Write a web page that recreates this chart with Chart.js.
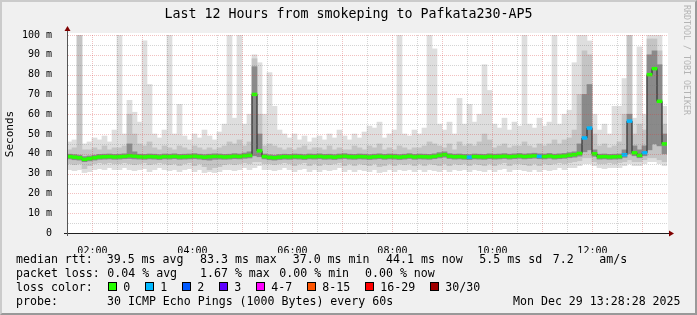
<!DOCTYPE html>
<html>
<head>
<meta charset="utf-8">
<script src="https://cdn.jsdelivr.net/npm/chart.js@4.4.1/dist/chart.umd.min.js"></script>
<style>
  html, body { margin: 0; padding: 0; background: #f0f0f0; }
  #wrap { position: relative; width: 697px; height: 315px; overflow: hidden; }
  #frame { position: absolute; left: 0; top: 0; width: 697px; height: 315px; box-sizing: border-box;
           background: #f0f0f0; border-style: solid; border-width: 2px; border-color: #cbcbcb #999 #999 #cbcbcb; }
  canvas { position: absolute; left: 0; top: 0; }
  #title { position: absolute; left: 0; top: 6px; width: 697px; text-align: center; font-family: "DejaVu Sans Mono", monospace;
           font-size: 13.3px; line-height: 16px; color: #000; white-space: pre; }
  .t { position: absolute; font-family: "DejaVu Sans Mono", monospace; font-size: 11.6px; line-height: 14px;
       white-space: pre; color: #000; }
  .box { position: absolute; width: 7px; height: 7px; border: 1px solid #000; }
  #brand { position: absolute; left: 682px; top: 5px; writing-mode: vertical-rl; font-family: "DejaVu Sans Mono", monospace;
           font-size: 8.3px; line-height: 10px; color: #b4b4b4; white-space: nowrap; }
</style>
</head>
<body>
<div id="wrap">
  <div id="frame"></div>
  <canvas id="smoke" width="697" height="315"></canvas>
  <div id="title">Last 12 Hours from smokeping to Pafkata230-AP5</div>
  <div id="brand">RRDTOOL / TOBI OETIKER</div>
  <div id="legend"></div>
</div>
<script>
// 120 bins of 6 minutes, 01:29:30 .. 13:29:30
var binStart = 89.5;
var binMinutes = 6;

// median rtt (ms)
var median = [
  38.6, 38.3, 38.0, 37.2, 37.6, 38.0, 38.4, 38.5, 38.6, 38.4,
  38.5, 38.7, 39.0, 38.8, 38.5, 38.4, 38.6, 38.5, 38.3, 38.6,
  38.5, 38.7, 38.4, 38.5, 38.6, 38.8, 38.5, 38.3, 38.5, 38.7,
  38.6, 38.4, 38.5, 38.8, 38.6, 39.0, 39.2, 70.0, 41.5, 38.6,
  38.2, 38.0, 38.3, 38.5, 38.4, 38.6, 38.5, 38.3, 38.6, 38.5,
  38.7, 38.4, 38.5, 38.3, 38.6, 38.8, 38.5, 38.4, 38.6, 38.5,
  38.3, 38.5, 38.7, 38.4, 38.6, 38.5, 38.3, 38.5, 38.8, 38.4,
  38.6, 38.5, 38.4, 38.7, 39.2, 39.6, 38.8, 38.5, 38.6, 38.4,
  38.3, 38.6, 38.5, 38.4, 38.7, 38.5, 38.6, 38.8, 38.5, 38.7,
  38.9, 38.6, 38.8, 39.0, 38.7, 38.6, 38.9, 38.5, 38.7, 38.9,
  39.3, 39.6, 40.2, 48.0, 53.0, 40.0, 38.5, 38.6, 38.4, 38.5,
  38.6, 39.5, 56.5, 40.5, 39.2, 40.5, 80.0, 83.0, 66.5, 45.0
];

// lost pings per bin (of 30)
var loss = [
  0,0,0,0,0,0,0,0,0,0, 0,0,0,0,0,0,0,0,0,0, 0,0,0,0,0,0,0,0,0,0,
  0,0,0,0,0,0,0,0,0,0, 0,0,0,0,0,0,0,0,0,0, 0,0,0,0,0,0,0,0,0,0,
  0,0,0,0,0,0,0,0,0,0, 0,0,0,0,0,0,0,0,0,0, 1,0,0,0,0,0,0,0,0,0,
  0,0,0,0,1,0,0,0,0,0, 0,0,0,1,1,0,0,0,0,0, 0,1,1,0,0,1,0,0,0,0
];

// smoke: min / max ping (ms)
var smokeMin = [
  32, 31.5, 32, 30.5, 31, 32, 32.5, 32, 33, 32,
  32, 33, 32, 31.5, 32, 32.5, 31, 32, 33, 32,
  31.5, 32, 31, 32, 32.5, 31, 32, 30.5, 31, 30.5,
  31, 32, 32, 31.5, 32, 33, 32, 33, 34, 32,
  32, 31.5, 32, 33, 32, 31, 32, 32.5, 31, 32,
  31, 32, 31.5, 32, 33, 31, 32, 31, 32, 31.5,
  31, 32, 30.5, 31, 32, 31, 32, 31.5, 32, 31,
  32, 31, 32, 31.5, 31, 32, 31, 32, 31.5, 32,
  31, 32, 31.5, 31, 32, 31, 32, 32.5, 31, 32,
  32, 31.5, 31, 32, 31, 32, 31.5, 32, 33, 32,
  33, 33, 34, 35, 35, 34, 33, 32.5, 33, 33,
  33, 34, 35, 34, 34, 35, 36, 36, 35, 34
];
var smokeMax = [
  46, 47, 100, 45, 46, 48, 47, 49, 46, 52,
  100, 50, 67, 61, 56, 97, 75, 50, 48, 52,
  100, 50, 65, 49, 47, 50, 48, 52, 49, 47,
  51, 55, 100, 58, 100, 55, 60, 90, 86, 60,
  81, 64, 52, 50, 48, 50, 47, 49, 46, 48,
  49, 47, 50, 48, 52, 49, 47, 50, 48, 51,
  54, 53, 56, 48, 50, 52, 100, 50, 49, 52,
  50, 53, 100, 93, 55, 52, 56, 50, 68, 55,
  65, 56, 60, 85, 72, 55, 53, 58, 52, 56,
  54, 100, 55, 53, 58, 54, 56, 100, 55, 60,
  62, 86, 100, 100, 97, 60, 52, 55, 50, 64,
  64, 78, 100, 58, 94, 60, 100, 100, 100, 64
];

// smoke: middle band (ms)
var midLo = [
  35, 34.5, 35, 32.5, 34, 35, 35.5, 35, 35.5, 35,
  35, 35.5, 35, 34.5, 35, 35.5, 34.5, 35, 35.5, 35,
  34.5, 35, 34, 35, 35.5, 34, 35, 33.5, 32, 33,
  33.5, 34.5, 35, 34.5, 35, 35.5, 35, 36, 36, 35,
  35, 34.5, 35, 35.5, 35, 34, 35, 35.5, 34, 35,
  34, 35, 34.5, 35, 35.5, 34, 35, 34, 35, 34.5,
  34, 35, 33.5, 34, 35, 34, 35, 34.5, 35, 34,
  35, 34, 35, 34.5, 34, 35, 34, 35, 34.5, 35,
  34, 35, 34.5, 34, 35, 34, 35, 35.5, 34, 35,
  35, 34.5, 34, 35, 34, 35, 34.5, 35, 35.5, 35,
  35.5, 36, 36.5, 38, 38, 36, 35, 35, 35.5, 35,
  35.5, 36, 37, 36, 36, 37, 38, 38, 37, 36
];
var midHi = [
  42, 43, 100, 42, 42, 43, 42, 44, 42, 43,
  43, 44, 60, 50, 45, 44, 46, 43, 42, 44,
  43, 42, 44, 43, 42, 44, 43, 42, 43, 42,
  43, 44, 46, 45, 47, 44, 46, 88, 60, 44,
  45, 44, 43, 42, 43, 42, 43, 44, 42, 43,
  43, 42, 44, 42, 43, 42, 42, 44, 43, 42,
  44, 43, 45, 42, 43, 42, 44, 43, 42, 43,
  43, 44, 46, 45, 44, 43, 45, 42, 46, 44,
  45, 44, 46, 50, 47, 43, 44, 45, 43, 44,
  44, 46, 44, 43, 45, 44, 45, 47, 45, 47,
  48, 52, 70, 92, 90, 50, 44, 45, 43, 44,
  46, 60, 100, 50, 55, 52, 98, 98, 92, 55
];

// smoke: dark core (ms)
var coreLo = [
  37.4, 37.0, 36.8, 36.0, 36.4, 36.8, 37.2, 37.3, 37.4, 37.2,
  37.3, 37.5, 37.6, 37.4, 37.3, 37.2, 37.4, 37.3, 37.1, 37.4,
  37.3, 37.5, 37.2, 37.3, 37.4, 37.5, 37.3, 37.0, 36.8, 37.2,
  37.3, 37.2, 37.3, 37.5, 37.4, 37.7, 37.9, 39.0, 38.5, 37.4,
  37.0, 36.8, 37.1, 37.3, 37.2, 37.4, 37.3, 37.1, 37.4, 37.3,
  37.5, 37.2, 37.3, 37.1, 37.4, 37.6, 37.3, 37.2, 37.4, 37.3,
  37.1, 37.3, 37.5, 37.2, 37.4, 37.3, 37.1, 37.3, 37.6, 37.2,
  37.4, 37.3, 37.2, 37.5, 37.9, 38.3, 37.6, 37.3, 37.4, 37.2,
  37.1, 37.4, 37.3, 37.2, 37.5, 37.3, 37.4, 37.6, 37.3, 37.5,
  37.7, 37.4, 37.6, 37.8, 37.5, 37.4, 37.7, 37.3, 37.5, 37.7,
  38.0, 38.3, 38.8, 41.0, 42.0, 38.7, 37.3, 37.4, 37.2, 37.3,
  37.4, 38.2, 40.0, 39.0, 38.0, 39.0, 42.0, 45.0, 44.0, 40.0
];
var coreHi = [
  39.8, 39.6, 39.3, 38.6, 38.9, 39.3, 39.7, 39.8, 39.9, 39.7,
  39.8, 40.0, 45.0, 41.0, 39.8, 39.7, 39.9, 39.8, 39.6, 39.9,
  39.8, 40.0, 39.7, 39.8, 39.9, 40.1, 39.8, 39.6, 39.8, 40.0,
  39.9, 39.7, 39.8, 40.1, 39.9, 40.4, 41.0, 84.0, 50.0, 39.9,
  39.5, 39.3, 39.6, 39.8, 39.7, 39.9, 39.8, 39.6, 39.9, 39.8,
  40.0, 39.7, 39.8, 39.6, 39.9, 40.1, 39.8, 39.7, 39.9, 39.8,
  39.6, 39.8, 40.0, 39.7, 39.9, 39.8, 39.6, 39.8, 40.1, 39.7,
  39.9, 39.8, 39.7, 40.0, 40.6, 41.0, 40.1, 39.8, 39.9, 39.7,
  39.6, 39.9, 39.8, 39.7, 40.0, 39.8, 39.9, 40.1, 39.8, 40.0,
  40.2, 39.9, 40.1, 40.3, 40.0, 39.9, 40.2, 39.8, 40.0, 40.2,
  40.6, 41.0, 45.0, 70.0, 75.0, 42.0, 39.8, 39.9, 39.7, 39.8,
  39.9, 42.0, 60.0, 44.0, 42.0, 44.0, 90.0, 92.0, 85.0, 50.0
];

var labelTimes = [120, 240, 360, 480, 600, 720];

var lossLabels = ['0', '1', '2', '3', '4-7', '8-15', '16-29', '30/30'];
var lossColors = ['#26ff00', '#00b8ff', '#0059ff', '#5e00ff', '#ff00ff', '#ff5500', '#ff0000', '#a00000'];

var rttStats = ['39.5 ms avg', '83.3 ms max', '37.0 ms min', '44.1 ms now', '5.5 ms sd', '7.2', 'am/s'];
var lossStats = ['0.04 % avg', '1.67 % max', '0.00 % min', '0.00 % now'];
var probeText = '30 ICMP Echo Pings (1000 Bytes) every 60s';
var stampText = 'Mon Dec 29 13:28:28 2025';

var GRID = 'rgba(120,120,120,0.32)';
var MGRID = 'rgba(215,60,60,0.32)';
var MONO = 'DejaVu Sans Mono';

function binTime(i) { return binStart + binMinutes * i + binMinutes / 2; }
function pairs(lo, hi) { return lo.map(function(v, i) { return {x: binTime(i), y: [v, hi[i]]}; }); }
function fmt(v) {
  var h = Math.floor(v / 60), m = v % 60;
  return (h < 10 ? '0' : '') + h + ':' + (m < 10 ? '0' : '') + m;
}

var gridTimes = [];
for (var g = 90; g < binStart + 720; g += 30) gridTimes.push(g);

var smokeBar = {type: 'bar', grouped: false, barPercentage: 1, categoryPercentage: 1, borderWidth: 0};

var plotBack = {
  id: 'plotBack',
  beforeDraw: function(c) {
    var a = c.chartArea, ctx = c.ctx;
    ctx.save();
    ctx.fillStyle = '#ffffff';
    ctx.fillRect(a.left, a.top - 2, a.right - a.left + 1, a.bottom - a.top + 2);
    ctx.restore();
  }
};

// rrdtool style dotted grid, painted over the smoke
var dotGrid = {
  id: 'dotGrid',
  afterDatasetsDraw: function(c) {
    var a = c.chartArea, ctx = c.ctx, xs = c.scales.x, ys = c.scales.y;
    ctx.save();
    gridTimes.forEach(function(t) {
      var px = Math.round(xs.getPixelForValue(t));
      ctx.fillStyle = t % 60 === 0 ? MGRID : GRID;
      for (var y = a.top; y < a.bottom; y += 2) ctx.fillRect(px, y, 1, 1);
    });
    for (var v = 5; v <= 100; v += 5) {
      var py = Math.round(ys.getPixelForValue(v));
      ctx.fillStyle = v % 10 === 0 ? MGRID : GRID;
      for (var x = a.left + 1; x < a.right; x += 2) ctx.fillRect(x, py, 1, 1);
    }
    ctx.restore();
  }
};

var axisArrows = {
  id: 'axisArrows',
  afterDraw: function(c) {
    var a = c.chartArea, ctx = c.ctx;
    ctx.save();
    ctx.strokeStyle = '#1f1f1f';
    ctx.lineWidth = 1;
    ctx.beginPath();
    ctx.moveTo(a.left - 3, a.bottom + 0.5);
    ctx.lineTo(a.right + 2, a.bottom + 0.5);
    ctx.stroke();
    ctx.strokeStyle = '#555';
    ctx.beginPath();
    ctx.moveTo(a.left + 0.5, a.bottom + 3);
    ctx.lineTo(a.left + 0.5, a.top - 6);
    ctx.stroke();
    ctx.fillStyle = '#800000';
    ctx.beginPath();
    ctx.moveTo(a.left + 0.5, a.top - 9);
    ctx.lineTo(a.left - 2.5, a.top - 4);
    ctx.lineTo(a.left + 3.5, a.top - 4);
    ctx.closePath();
    ctx.fill();
    ctx.beginPath();
    ctx.moveTo(a.right + 7, a.bottom + 0.5);
    ctx.lineTo(a.right + 2, a.bottom - 2.5);
    ctx.lineTo(a.right + 2, a.bottom + 3.5);
    ctx.closePath();
    ctx.fill();
    ctx.restore();
  }
};

new Chart(document.getElementById('smoke').getContext('2d'), {
  type: 'bar',
  data: {
    datasets: [
      Object.assign({order: 0, data: median.map(function(v, i) { return {x: binTime(i), y: [v - 0.7, v + 0.7]}; }),
                     backgroundColor: loss.map(function(l) { return lossColors[l]; })}, smokeBar),
      {type: 'line', order: 1, data: median.map(function(v, i) { return {x: binTime(i), y: v}; }),
       borderColor: '#222', borderWidth: 1, pointRadius: 0, stepped: 'middle'},
      Object.assign({order: 2, data: pairs(coreLo, coreHi), backgroundColor: '#8a8a8a'}, smokeBar),
      Object.assign({order: 3, data: pairs(midLo, midHi), backgroundColor: '#c4c4c4'}, smokeBar),
      Object.assign({order: 4, data: pairs(smokeMin, smokeMax), backgroundColor: '#dedede'}, smokeBar)
    ]
  },
  options: {
    responsive: false,
    animation: false,
    layout: {padding: {left: 0, right: 30, top: 35, bottom: 62}},
    plugins: {legend: {display: false}, tooltip: {enabled: false}},
    scales: {
      x: {
        type: 'linear', min: binStart, max: binStart + 720, offset: false,
        afterBuildTicks: function(s) { s.ticks = gridTimes.map(function(v) { return {value: v}; }); },
        afterFit: function(s) { s.height = 20; },
        grid: {display: false, offset: false},
        border: {display: false},
        ticks: {padding: 4, maxRotation: 0, autoSkip: false, color: '#000', font: {family: MONO, size: 10},
                callback: function(v) { return labelTimes.indexOf(v) >= 0 ? fmt(v) : ''; }}
      },
      y: {
        min: 0, max: 100,
        afterFit: function(s) { s.width = 67; },
        grid: {display: false},
        border: {display: false},
        title: {display: true, text: 'Seconds', color: '#000', font: {family: MONO, size: 11}, padding: {top: 4, bottom: 0}},
        ticks: {stepSize: 5, padding: 7, color: '#000', font: {family: MONO, size: 10},
                callback: function(v) { return v % 10 !== 0 ? '' : (v === 0 ? '0' : v + ' m'); }}
      }
    }
  },
  plugins: [plotBack, dotGrid, axisArrows]
});

// legend block below the graph
var legend = document.getElementById('legend');
function text(str, x, y) {
  var d = document.createElement('div');
  d.className = 't';
  d.style.left = x + 'px';
  d.style.top = y + 'px';
  d.textContent = str;
  legend.appendChild(d);
}
var rows = [252, 266, 280, 294];
text('median rtt:', 16, rows[0]);
[106.7, 200, 292.7, 386, 479.3, 552.7, 599.3].forEach(function(x, i) { text(rttStats[i], x, rows[0]); });
text('packet loss:', 16, rows[1]);
[107.3, 200, 279.3, 365].forEach(function(x, i) { text(lossStats[i], x, rows[1]); });
text('loss color:', 16, rows[2]);
var bx = 108.3;
lossLabels.forEach(function(lbl, i) {
  var b = document.createElement('div');
  b.className = 'box';
  b.style.left = bx + 'px';
  b.style.top = '282px';
  b.style.background = lossColors[i];
  legend.appendChild(b);
  text(lbl, bx + 15, rows[2]);
  bx += 15 + lbl.length * 7 + 15;
});
text('probe:', 16, rows[3]);
text(probeText, 107, rows[3]);
text(stampText, 513, rows[3]);
</script>
</body>
</html>
